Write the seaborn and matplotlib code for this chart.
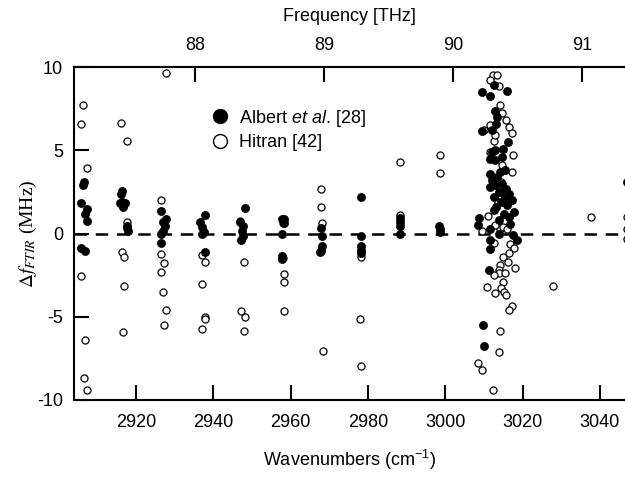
import matplotlib
matplotlib.use("Agg")
import matplotlib.pyplot as plt
import seaborn as sns
import pandas as pd
from matplotlib.lines import Line2D

# Albert et al. [28] (filled) - wavenumber (cm-1), deviation (MHz)
albert_x = [2906.7, 2906.4, 2905.8, 2907.4, 2906.8, 2907.4, 2905.8, 2906.8,
            2916.3, 2916.1, 2916.3, 2915.9, 2917.0, 2916.6, 2917.2, 2917.7, 2917.7, 2918.0,
            2926.6, 2927.9, 2926.9, 2927.6, 2927.1, 2926.5, 2926.5,
            2938.0, 2936.7, 2937.2, 2937.6, 2937.0, 2938.0,
            2948.1, 2947.0, 2947.6, 2947.4, 2947.8, 2947.2,
            2957.9, 2958.4, 2958.2, 2957.9, 2957.8, 2957.9,
            2967.8, 2968.2, 2968.2, 2967.8, 2967.6,
            2978.2, 2978.3, 2978.1, 2978.1, 2978.2,
            2988.3, 2988.3, 2988.3, 2988.3,
            2998.5, 2998.6, 2998.6,
            3009.5, 3012.5, 3016.0, 3011.6, 3013.0, 3013.4, 3013.2, 3009.5, 3012.0,
            3016.3, 3015.0, 3013.0, 3011.6, 3013.0, 3015.4, 3011.6, 3012.0, 3011.6,
            3013.5, 3014.8, 3015.8, 3013.8, 3016.5, 3012.7, 3017.2, 3014.5, 3016.0,
            3013.2, 3017.8, 3015.2, 3016.6, 3008.6, 3011.6, 3014.0, 3018.5, 3011.6,
            3011.5, 3011.4, 3009.8, 3010.0, 3013.0, 3014.2, 3015.5, 3012.5, 3014.0,
            3016.8, 3017.5, 3008.8, 3012.2, 3014.6,
            3046.9]
albert_y = [3.12, 2.9, 1.86, 1.46, 1.16, 0.76, -0.88, -1.08,
            2.56, 2.36, 1.9, 1.85, 1.76, 1.62, 1.84, 0.46, 0.36, 0.16,
            1.36, 0.86, 0.7, 0.46, 0.16, -0.04, -0.58,
            1.1, 0.7, 0.4, 0.1, 0.0, -1.1,
            1.56, 0.7, 0.46, 0.16, -0.14, -0.38,
            0.9, 0.9, 0.66, -0.04, -1.54, -1.38,
            0.36, -0.14, -0.78, -1.04, -1.12,
            2.2, -0.14, -0.74, -0.98, -1.18,
            0.96, 0.7, 0.46, 0.0,
            0.46, 0.26, 0.1,
            8.52, 8.94, 8.58, 8.28, 7.38, 7.0, 6.6, 6.18, 6.2,
            5.52, 5.08, 5.0, 4.48, 4.4, 3.8, 3.6, 3.2, 2.8,
            3.4, 3.0, 2.7, 2.5, 2.4, 2.2, 2.0, 1.9, 1.7,
            1.6, 1.28, 1.2, 1.0, 0.54, 0.28, -0.04, -0.42, -0.42,
            -0.92, -2.18, -5.48, -6.78, 2.9, 3.7, 2.2, 1.4, 0.8,
            0.6, -0.1, 0.96, 4.9, 4.6,
            3.08]

# Hitran [42] (open)
hitran_x = [2906.4, 2905.8, 2907.4, 2905.8, 2906.8, 2906.7, 2907.3,
            2916.1, 2917.6, 2917.7, 2916.3, 2917.0, 2917.0, 2916.6,
            2927.7, 2926.6, 2926.5, 2927.3, 2926.6, 2926.9, 2927.9, 2927.3,
            2937.0, 2937.8, 2937.0, 2937.8, 2937.8, 2937.1,
            2947.0, 2947.9, 2947.3, 2948.3, 2947.9,
            2958.0, 2958.0, 2958.2, 2958.2, 2958.2,
            2967.8, 2967.8, 2968.2, 2968.3,
            2978.3, 2978.0, 2978.2,
            2988.3, 2988.4,
            2998.6, 2998.6,
            3012.4, 3013.5, 3011.5, 3014.0, 3014.2, 3014.6, 3015.6, 3016.6, 3010.0,
            3017.3, 3011.6, 3012.5, 3013.0, 3011.6, 3017.6, 3014.6, 3017.2, 3014.4,
            3015.8, 3013.6, 3011.0, 3009.5, 3014.2, 3015.0, 3016.0, 3013.0, 3012.5,
            3016.8, 3017.8, 3016.5, 3015.0, 3016.3, 3014.2, 3018.0, 3014.0, 3013.8,
            3012.5, 3015.5, 3015.0, 3010.9, 3014.5, 3015.2, 3012.8, 3015.6, 3017.2,
            3016.5, 3014.2, 3014.0, 3008.6, 3009.4, 3012.3,
            3028.0, 3037.8, 3046.9, 3046.9, 3046.9]
hitran_y = [7.7, 6.56, 3.92, -2.54, -6.38, -8.7, -9.38,
            6.66, 5.56, 0.72, -1.14, -1.44, -3.14, -5.9,
            9.66, 2.0, -1.24, -1.8, -2.34, -3.5, -4.6, -5.48,
            -1.3, -1.74, -3.04, -5.04, -5.14, -5.74,
            0.76, -1.74, -4.64, -5.04, -5.84,
            0.66, -1.5, -2.44, -2.94, -4.64,
            2.7, 1.6, 0.66, -7.04,
            -1.44, -5.14, -7.94,
            4.32, 1.1,
            4.72, 3.66,
            9.54, 9.54, 9.22, 8.88, 7.72, 7.22, 6.82, 6.42, 6.2,
            6.02, 6.5, 5.58, 5.9, 4.9, 4.74, 4.14, 3.72, 3.1,
            2.5, 1.9, 1.06, 0.18, 0.3, 0.4, 0.3, 0.5, -0.6,
            -0.64, -0.9, -1.2, -1.4, -1.72, -1.9, -2.06, -2.2, -2.4,
            -2.5, -2.4, -2.9, -3.2, -3.3, -3.5, -3.6, -3.7, -4.36,
            -4.62, -5.88, -7.12, -7.78, -8.18, -9.38,
            -3.16, 0.98, 0.98, 0.28, -0.32]

x_ticks = [2920, 2940, 2960, 2980, 3000, 3020, 3040]
y_ticks = [-10, -5, 0, 5, 10]
thz_ticks = [88, 89, 90, 91]

df_a = pd.DataFrame({'wn': albert_x, 'df': albert_y})
df_h = pd.DataFrame({'wn': hitran_x, 'df': hitran_y})

sns.set_style('ticks')
plt.rcParams['font.family'] = ['Liberation Sans', 'DejaVu Sans']
plt.rcParams['mathtext.fontset'] = 'custom'
plt.rcParams['mathtext.rm'] = 'Liberation Sans'
plt.rcParams['mathtext.it'] = 'Liberation Sans:italic'
plt.rcParams['axes.unicode_minus'] = False
for key in ['text.color', 'axes.labelcolor', 'xtick.color', 'ytick.color',
            'xtick.labelcolor', 'ytick.labelcolor']:
    plt.rcParams[key] = 'black'

fig = plt.figure(figsize=(6.25, 4.84), dpi=100)
ax = fig.add_axes([74 / 625, 84 / 484, 551 / 625, 333 / 484])

ax.axhline(0, color='black', lw=1.8, ls=(0, (5, 3.5)), zorder=1)
sns.scatterplot(data=df_h, x='wn', y='df', ax=ax, marker='o', s=26,
                facecolor='white', edgecolor='black', linewidth=0.9, zorder=2)
sns.scatterplot(data=df_a, x='wn', y='df', ax=ax, marker='o', s=34,
                color='black', edgecolor='black', linewidth=0.5, zorder=3)

ax.set_xlim(2904, 3046.5)
ax.set_ylim(-10, 10)
ax.set_xticks(x_ticks)
ax.set_yticks(y_ticks)
ax.tick_params(axis='x', direction='in', length=11, width=1.5, labelsize=13, pad=10,
               colors='black', top=False)
ax.tick_params(axis='y', direction='in', length=11, width=1.5, labelsize=13, pad=8,
               colors='black', right=False)
for side in ['left', 'bottom', 'top']:
    ax.spines[side].set_linewidth(1.5)
    ax.spines[side].set_color('black')
ax.spines['right'].set_visible(False)

ax.set_xlabel('Wavenumbers (cm$^{-1}$)', fontsize=13, labelpad=12)
ax.set_ylabel(r'$\Delta f_{FTIR}$ (MHz)', fontsize=14,
              family='Liberation Serif', math_fontfamily='stix')
ax.yaxis.set_label_coords(-0.064, 0.5)

c_cm = 0.0299792458  # THz per cm-1
secax = ax.secondary_xaxis('top', functions=(lambda w: w * c_cm, lambda f: f / c_cm))
secax.set_xticks(thz_ticks)
secax.tick_params(direction='in', length=11, width=1.5, labelsize=13, pad=9,
                  colors='black')
secax.spines['top'].set_linewidth(1.5)
secax.set_xlabel('Frequency [THz]', fontsize=13, labelpad=12)

handles = [Line2D([], [], ls='none', marker='o', ms=10, mfc='black', mec='black'),
           Line2D([], [], ls='none', marker='o', ms=10, mfc='white', mec='black', mew=1.0)]
labels = [r'Albert $\mathit{et\ al.}\,$[28]', 'Hitran [42]']
ax.legend(handles, labels, loc='upper left', bbox_to_anchor=(0.22, 0.9),
          frameon=False, fontsize=13, handletextpad=0.05, labelspacing=0.3,
          borderaxespad=0)

fig.savefig('out.png', dpi=100)
